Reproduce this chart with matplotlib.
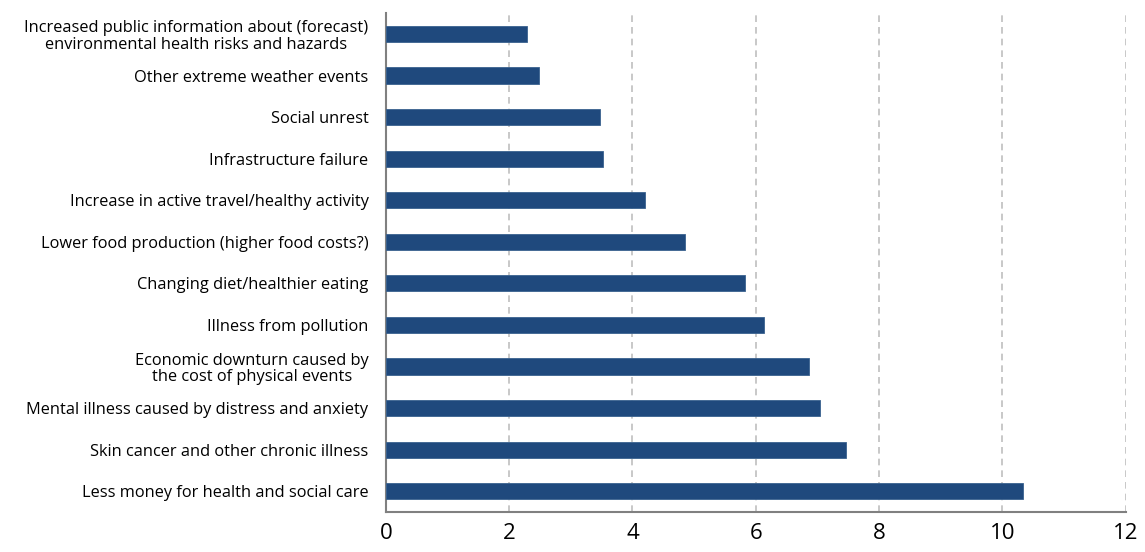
import numpy as np
import matplotlib.pyplot as plt

categories = [
    "Less money for health and social care",
    "Skin cancer and other chronic illness",
    "Mental illness caused by distress and anxiety",
    "Economic downturn caused by\nthe cost of physical events",
    "Illness from pollution",
    "Changing diet/healthier eating",
    "Lower food production (higher food costs?)",
    "Increase in active travel/healthy activity",
    "Infrastructure failure",
    "Social unrest",
    "Other extreme weather events",
    "Increased public information about (forecast)\nenvironmental health risks and hazards",
]
values = [10.34, 7.46, 7.05, 6.87, 6.13, 5.82, 4.86, 4.21, 3.53, 3.47, 2.48, 2.29]
xticks = [0, 2, 4, 6, 8, 10, 12]

plt.rcParams['font.family'] = ['Open Sans', 'DejaVu Sans']

fig = plt.figure(figsize=(11.45, 5.52), dpi=100)
ax = fig.add_axes([0.337, 0.0725, 0.646, 0.9035])

y = np.arange(len(categories))
ax.barh(y, values, height=0.39, color='#1f497d', edgecolor='#3a628f', linewidth=0.6, zorder=3)

ax.set_xlim(0, 12)
ax.set_ylim(-0.5, len(categories) - 0.5)
ax.set_xticks(xticks)
ax.set_xticklabels([str(t) for t in xticks], fontsize=16)
ax.set_yticks(y)
ax.set_yticklabels(categories, fontsize=11.8, ha='right', multialignment='center',
                   linespacing=1.05)

ax.xaxis.grid(True, linestyle=(0, (4, 3)), color='#bfbfbf', linewidth=1.2, zorder=0)
ax.set_axisbelow(True)
ax.tick_params(axis='x', length=0, pad=8)
ax.tick_params(axis='y', length=0, pad=12.5)

for s in ['top', 'right']:
    ax.spines[s].set_visible(False)
for s in ['left', 'bottom']:
    ax.spines[s].set_color('#808080')
    ax.spines[s].set_linewidth(1.5)

fig.savefig('out.png', dpi=100)
